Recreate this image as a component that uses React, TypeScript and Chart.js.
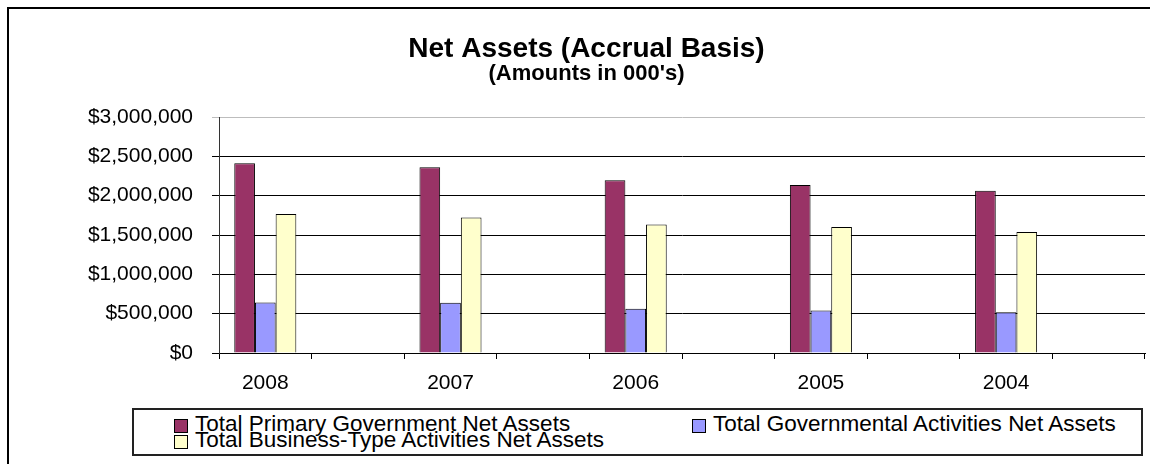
import React, { useEffect, useRef } from 'react';
import { Chart, registerables } from 'chart.js';

Chart.register(...registerables);

// fiscal years, newest first (each one followed by an empty slot, as in the original sheet)
const years = ['2008', '2007', '2006', '2005', '2004'];

// amounts in 000's
const primaryGov = [2411000, 2360000, 2195000, 2136000, 2064000];
const governmental = [641000, 640000, 564000, 539000, 517000];
const businessType = [1767000, 1721000, 1632000, 1602000, 1538000];

const seriesNames = [
  'Total Primary Government Net Assets',
  'Total Governmental Activities Net Assets',
  'Total Business-Type Activities Net Assets'
];
const seriesColors = ['#993366', '#9999FF', '#FFFFCC'];

const yTicks = [0, 500000, 1000000, 1500000, 2000000, 2500000, 3000000];

const FONT = '"Liberation Sans", Arial, sans-serif';

const labels = years.flatMap(y => [y, '']);
const spread = (vals: number[]) => vals.flatMap(v => [v, null]);

const money = (v: number) => '$' + v.toLocaleString('en-US');

export default function App() {
  const canvasRef = useRef<HTMLCanvasElement>(null);
  const chartRef = useRef<Chart | null>(null);

  useEffect(() => {
    if (!canvasRef.current) return;
    if (chartRef.current) chartRef.current.destroy();

    const data = [primaryGov, governmental, businessType];

    chartRef.current = new Chart(canvasRef.current, {
      type: 'bar',
      data: {
        labels,
        datasets: data.map((vals, i) => ({
          label: seriesNames[i],
          data: spread(vals),
          backgroundColor: seriesColors[i],
          borderColor: '#000',
          borderWidth: 1,
          categoryPercentage: 0.67,
          barPercentage: 1
        }))
      },
      options: {
        animation: false,
        responsive: false,
        layout: { padding: { left: 28, right: 5, top: 0, bottom: 0 } },
        plugins: {
          legend: { display: false },
          tooltip: { enabled: false },
          title: {
            display: true,
            text: 'Net Assets (Accrual Basis)',
            color: '#000',
            font: { family: FONT, size: 28, weight: 'bold', lineHeight: 1 },
            padding: { top: 35, bottom: 0 }
          },
          subtitle: {
            display: true,
            text: "(Amounts in 000's)",
            color: '#000',
            font: { family: FONT, size: 22, weight: 'bold', lineHeight: 1 },
            padding: { top: 0, bottom: 32 }
          }
        },
        scales: {
          x: {
            afterFit: (scale: any) => { scale.height = 111; },
            grid: {
              offset: true,
              drawOnChartArea: false,
              tickLength: 6,
              color: '#000'
            },
            border: { color: '#000' },
            ticks: {
              autoSkip: false,
              maxRotation: 0,
              padding: 12,
              color: '#000',
              font: { family: FONT, size: 21 }
            }
          },
          y: {
            min: 0,
            max: 3000000,
            afterFit: (scale: any) => { scale.width = 191; },
            afterBuildTicks: (scale: any) => {
              scale.ticks = yTicks.map(value => ({ value }));
            },
            grid: {
              color: (ctx: any) => (ctx.tick && ctx.tick.value === 3000000 ? '#bdbdbd' : '#000'),
              tickLength: 7,
              lineWidth: 1
            },
            border: { color: '#333' },
            ticks: {
              padding: 19,
              color: '#000',
              font: { family: FONT, size: 21 },
              callback: (v: any) => money(Number(v))
            }
          }
        }
      }
    });

    return () => {
      if (chartRef.current) {
        chartRef.current.destroy();
        chartRef.current = null;
      }
    };
  }, []);

  const legendRows = [
    { i: 0, left: 174, top: 419 },
    { i: 1, left: 692, top: 419 },
    { i: 2, left: 174, top: 435 }
  ];

  return (
    <div style={{ position: 'fixed', left: 0, top: 0, width: 1150, height: 464, overflow: 'hidden', background: '#fff' }}>
      {/* outer chart frame, only top and left edges are in view */}
      <div
        style={{
          position: 'absolute',
          left: 7,
          top: 7,
          width: 1200,
          height: 500,
          borderTop: '2px solid #000',
          borderLeft: '2px solid #000'
        }}
      />
      <canvas ref={canvasRef} width={1150} height={464} style={{ position: 'absolute', left: 0, top: 0 }} />
      {/* legend */}
      <div
        style={{
          position: 'absolute',
          left: 132,
          top: 408,
          width: 1011,
          height: 48,
          boxSizing: 'border-box',
          border: '2px solid #222',
          background: '#fff'
        }}
      />
      {legendRows.map(r => (
        <React.Fragment key={r.i}>
          <div
            style={{
              position: 'absolute',
              left: r.left,
              top: r.top,
              width: 14,
              height: 14,
              boxSizing: 'border-box',
              border: '1.5px solid #000',
              background: seriesColors[r.i]
            }}
          />
          <div
            style={{
              position: 'absolute',
              left: r.left + 21,
              top: r.top - 6,
              fontFamily: FONT,
              fontSize: 22.5,
              lineHeight: '22px',
              color: '#000',
              whiteSpace: 'nowrap'
            }}
          >
            {seriesNames[r.i]}
          </div>
        </React.Fragment>
      ))}
    </div>
  );
}
